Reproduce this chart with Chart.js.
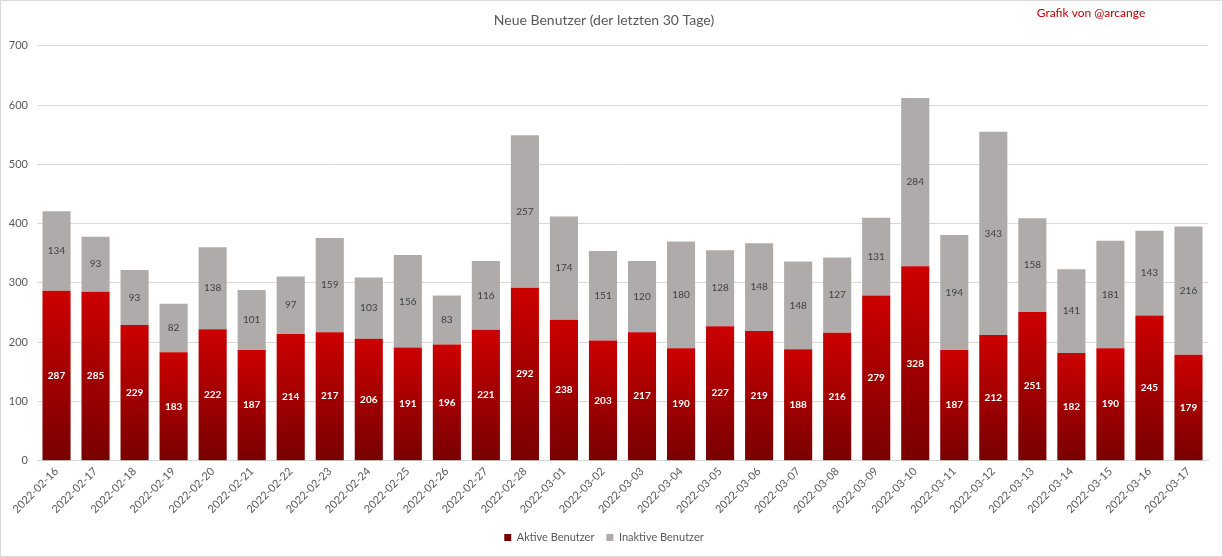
<!DOCTYPE html>
<html>
<head>
<meta charset="utf-8">
<script src="https://cdn.jsdelivr.net/npm/chart.js@4/dist/chart.umd.min.js"></script>
<style>
  html, body { margin: 0; padding: 0; background: #fff; }
  #wrap { width: 1223px; height: 557px; position: relative; }
</style>
</head>
<body>
<div id="wrap"><canvas id="chart"></canvas></div>
<script>
// Data
const days = [
    '2022-02-16', '2022-02-17', '2022-02-18', '2022-02-19', '2022-02-20', '2022-02-21',
    '2022-02-22', '2022-02-23', '2022-02-24', '2022-02-25', '2022-02-26', '2022-02-27',
    '2022-02-28', '2022-03-01', '2022-03-02', '2022-03-03', '2022-03-04', '2022-03-05',
    '2022-03-06', '2022-03-07', '2022-03-08', '2022-03-09', '2022-03-10', '2022-03-11',
    '2022-03-12', '2022-03-13', '2022-03-14', '2022-03-15', '2022-03-16', '2022-03-17'
];
const activeUsers = [287, 285, 229, 183, 222, 187, 214, 217, 206, 191, 196, 221, 292, 238, 203,
    217, 190, 227, 219, 188, 216, 279, 328, 187, 212, 251, 182, 190, 245, 179];
const inactiveUsers = [134, 93, 93, 82, 138, 101, 97, 159, 103, 156, 83, 116, 257, 174, 151,
    120, 180, 128, 148, 148, 127, 131, 284, 194, 343, 158, 141, 181, 143, 216];

const FONT = 'Lato, "Open Sans", sans-serif';
const TEXT_GREY = '#595959';

// Red gradient per bar, bright at the top, dark at the base
const redFill = (ctx) => {
    if (ctx.type !== 'data') return '#C00000';
    const chart = ctx.chart;
    if (!chart.chartArea) return '#C00000';
    const y = chart.scales.y;
    const top = y.getPixelForValue(ctx.raw);
    const bottom = y.getPixelForValue(0);
    const g = chart.ctx.createLinearGradient(0, top, 0, bottom);
    g.addColorStop(0, '#CC0000');
    g.addColorStop(1, '#780000');
    return g;
};

// Value labels in the middle of each segment, plus credit and frame
const extrasPlugin = {
    id: 'extras',
    afterDatasetsDraw(chart) {
        const c = chart.ctx;
        c.save();
        c.textAlign = 'center';
        c.textBaseline = 'middle';
        chart.data.datasets.forEach((ds, i) => {
            const meta = chart.getDatasetMeta(i);
            c.font = i === 0 ? `bold 10px ${FONT}` : `10px ${FONT}`;
            c.fillStyle = i === 0 ? '#FFFFFF' : '#404040';
            meta.data.forEach((el, j) => {
                c.fillText(String(ds.data[j]), el.x, (el.y + el.base) / 2);
            });
        });
        c.restore();
    },
    afterDraw(chart) {
        const c = chart.ctx;
        c.save();
        c.font = `12px ${FONT}`;
        c.fillStyle = '#C00000';
        c.textAlign = 'center';
        c.textBaseline = 'middle';
        c.fillText('Grafik von @arcange', 1091, 13);
        c.strokeStyle = '#D9D9D9';
        c.lineWidth = 1;
        c.strokeRect(0.5, 0.5, chart.width - 1, chart.height - 1);
        c.restore();
    }
};

new Chart(document.getElementById('chart'), {
    type: 'bar',
    data: {
        labels: days,
        datasets: [
            { label: 'Aktive Benutzer', data: activeUsers, backgroundColor: redFill },
            { label: 'Inaktive Benutzer', data: inactiveUsers, backgroundColor: '#AFABAB' }
        ]
    },
    options: {
        responsive: true,
        maintainAspectRatio: false,
        animation: false,
        devicePixelRatio: 1,
        datasets: { bar: { categoryPercentage: 1, barPercentage: 0.72 } },
        layout: { padding: { left: 0, right: 15, top: 0, bottom: 4 } },
        plugins: {
            title: {
                display: true,
                text: 'Neue Benutzer (der letzten 30 Tage)',
                color: TEXT_GREY,
                font: { family: FONT, size: 14, weight: 'normal' },
                padding: { top: 12, bottom: 17 }
            },
            legend: {
                position: 'bottom',
                labels: {
                    color: TEXT_GREY,
                    font: { family: FONT, size: 11 },
                    boxWidth: 7,
                    boxHeight: 7,
                    padding: 12
                }
            },
            tooltip: { enabled: false }
        },
        scales: {
            x: {
                stacked: true,
                grid: { display: false, drawTicks: false },
                border: { display: true, color: '#D9D9D9' },
                ticks: {
                    color: TEXT_GREY,
                    font: { family: FONT, size: 11 },
                    maxRotation: 45,
                    minRotation: 45,
                    autoSkip: false,
                    padding: 4
                }
            },
            y: {
                stacked: true,
                min: 0,
                max: 700,
                afterFit(scale) { scale.width = 37; },
                grid: { color: '#D9D9D9', drawTicks: false },
                border: { display: false },
                ticks: {
                    stepSize: 100,
                    color: TEXT_GREY,
                    font: { family: FONT, size: 11 },
                    padding: 9
                }
            }
        }
    },
    plugins: [extrasPlugin]
});
</script>
</body>
</html>
